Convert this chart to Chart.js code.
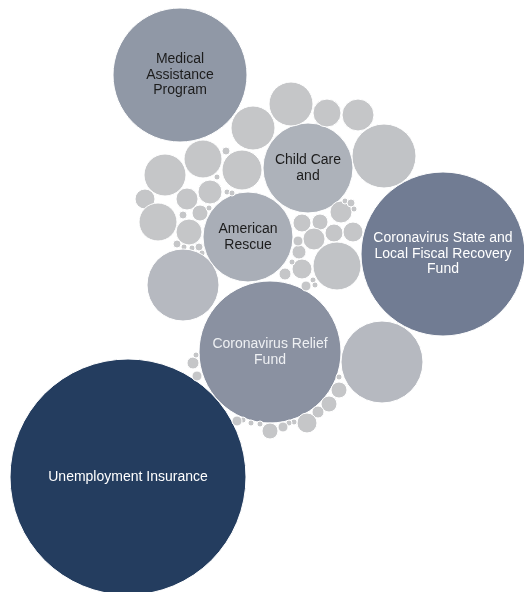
<!DOCTYPE html>
<html>
<head>
<meta charset="utf-8">
<script src="https://cdn.jsdelivr.net/npm/chart.js@4.4.0/dist/chart.umd.min.js"></script>
<style>
  html, body { margin: 0; padding: 0; background: #fff; }
  #wrap { width: 524px; height: 592px; position: relative; }
</style>
</head>
<body>
<div id="wrap"><canvas id="myChart"></canvas></div>
<script>
// bubbles (x, y in picture units, r = radius)
var labels = [
    'Medical Assistance Program',
    'Child Care and',
    'American Rescue',
    'Coronavirus State and Local Fiscal Recovery Fund',
    'Coronavirus Relief Fund',
    'Unemployment Insurance'
];
var bx = [180, 308, 248, 443, 270, 128,
    291, 327, 358, 253, 384, 203, 242, 165, 226, 217, 187, 210, 145, 158, 183, 200, 189,
    177, 184, 192, 199, 202, 209, 227, 232,
    302, 320, 341, 345, 351, 354, 314, 334, 353, 299, 298, 302, 337, 285, 306, 313, 315, 292,
    183, 382,
    193, 197, 196, 339, 339, 329, 318, 307, 294, 289, 283, 270, 260, 251, 243, 237];
var by = [75, 168, 237, 254, 352, 477,
    104, 113, 115, 128, 156, 159, 170, 175, 151, 177, 199, 192, 199, 222, 215, 213, 232,
    244, 247, 248, 247, 253, 208, 192, 193,
    223, 222, 212, 201, 203, 209, 239, 233, 232, 252, 241, 269, 266, 274, 286, 280, 285, 262,
    285, 362,
    363, 376, 355, 377, 390, 404, 412, 423, 422, 423, 427, 431, 424, 423, 420, 421];
var br = [67, 45, 45, 82, 71, 118,
    22, 14, 16, 22, 32, 19, 20, 21, 4, 3, 11, 12, 10, 19, 4, 8, 13,
    4, 3, 3, 4, 3, 3, 3, 3,
    9, 8, 11, 3, 4, 3, 11, 9, 10, 7, 5, 10, 24, 6, 5, 3, 3, 3,
    36, 41,
    6, 5, 3, 3, 8, 8, 6, 10, 3, 3, 5, 8, 3, 3, 3, 5];

var fills = {
    'Medical Assistance Program': '#9098a6',
    'Child Care and': '#adb2ba',
    'American Rescue': '#a9aeb7',
    'Coronavirus State and Local Fiscal Recovery Fund': '#717c93',
    'Coronavirus Relief Fund': '#8a91a1',
    'Unemployment Insurance': '#243d5f'
};
var lines = {
    'Medical Assistance Program': ['Medical', 'Assistance', 'Program'],
    'Child Care and': ['Child Care', 'and'],
    'American Rescue': ['American', 'Rescue'],
    'Coronavirus State and Local Fiscal Recovery Fund': ['Coronavirus State and', 'Local Fiscal Recovery', 'Fund'],
    'Coronavirus Relief Fund': ['Coronavirus Relief', 'Fund'],
    'Unemployment Insurance': ['Unemployment Insurance']
};
var darkText = ['Medical Assistance Program', 'Child Care and', 'American Rescue'];

var points = [];
for (let i = 0; i < bx.length; i++) {
    points.push({x: bx[i], y: by[i], r: br[i], name: labels[i] || ''});
}

function grayFor(r) {
    if (r >= 36) return '#b6b9c0';
    if (r >= 24) return '#c1c3c6';
    return '#c5c6c8';
}

var bubbleLabels = {
    id: 'bubbleLabels',
    afterDatasetsDraw(chart) {
        let c = chart.ctx;
        let meta = chart.getDatasetMeta(0);
        c.save();
        c.font = '14px "Liberation Sans", Arial, sans-serif';
        c.textAlign = 'center';
        c.textBaseline = 'middle';
        meta.data.forEach(function (el, i) {
            let name = points[i].name;
            if (!name) return;
            let ls = lines[name];
            c.fillStyle = darkText.indexOf(name) >= 0 ? '#1c1c1c' : (name == 'Coronavirus Relief Fund' ? '#eef0f3' : '#ffffff');
            let lh = 15.5;
            let y0 = el.y - (ls.length - 1) * lh / 2;
            ls.forEach(function (t, k) { c.fillText(t, el.x, y0 + k * lh); });
        });
        c.restore();
    }
};

var ctx = document.getElementById('myChart').getContext('2d');
var chart = new Chart(ctx, {
    type: 'bubble',
    data: {
        datasets: [{
            data: points,
            clip: false,
            backgroundColor: function (c) {
                let p = c.raw;
                if (!p) return '#c5c6c8';
                return p.name ? fills[p.name] : grayFor(p.r);
            },
            borderColor: '#ffffff',
            borderWidth: 1,
            hoverBorderWidth: 1
        }]
    },
    options: {
        responsive: true,
        maintainAspectRatio: false,
        animation: false,
        layout: { padding: 0, autoPadding: false },
        plugins: { legend: { display: false }, tooltip: { enabled: false } },
        scales: {
            x: { type: 'linear', min: 0, max: 524, display: false },
            y: { type: 'linear', min: 0, max: 592, reverse: true, display: false }
        }
    },
    plugins: [bubbleLabels]
});
</script>
</body>
</html>
